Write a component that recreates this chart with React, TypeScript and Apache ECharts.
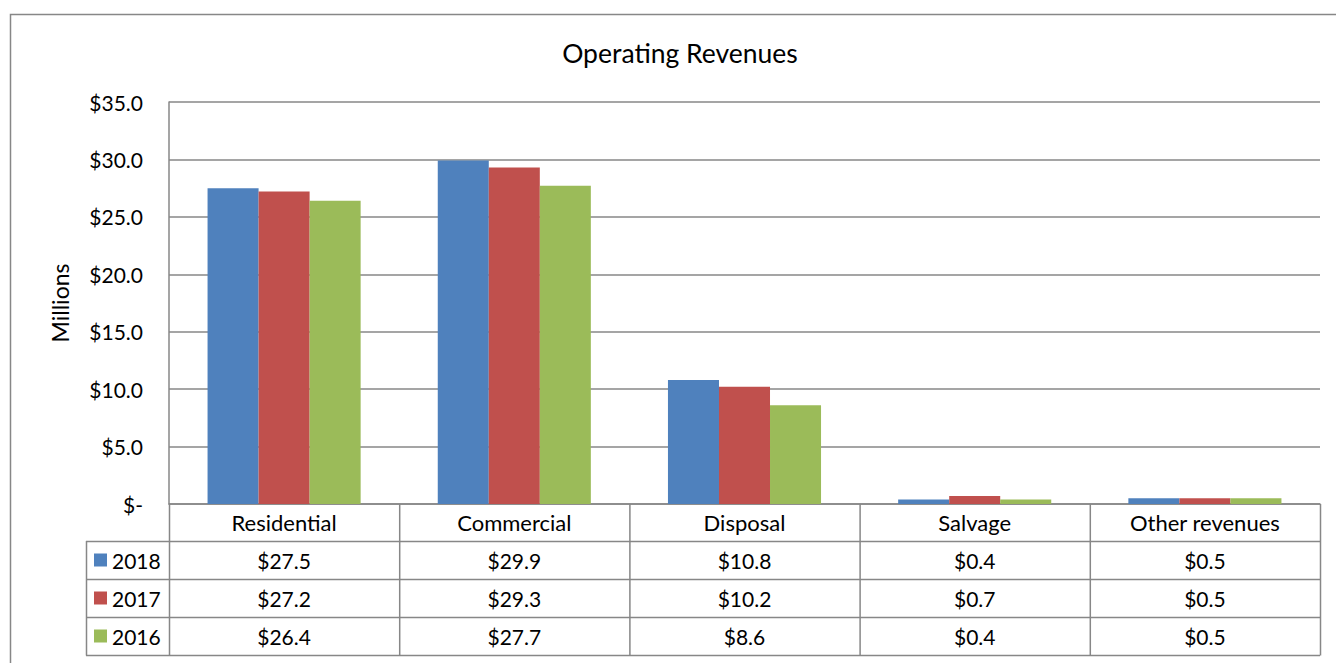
import React, { useEffect, useRef } from "react";
import * as echarts from "echarts";

const categories = ["Residential", "Commercial", "Disposal", "Salvage", "Other revenues"];
const seriesNames = ["2018", "2017", "2016"];
const values2018 = [27.5, 29.9, 10.8, 0.4, 0.5];
const values2017 = [27.2, 29.3, 10.2, 0.7, 0.5];
const values2016 = [26.4, 27.7, 8.6, 0.4, 0.5];
const seriesValues = [values2018, values2017, values2016];
const colors = ["#4F81BD", "#C0504D", "#9BBB59"];
const titleText = "Operating Revenues";

const FONT = "Lato, 'Open Sans', sans-serif";
const LINE = "#878787";

export default function App() {
  const ref = useRef<HTMLDivElement>(null);
  useEffect(() => {
    if (!ref.current) return;
    const chart = echarts.init(ref.current, null, { renderer: "svg" });
    const L = 169, R = 1320, T = 102, B = 504;
    const legendL = 86;
    const rowTops = [504, 541, 579, 617, 655];
    const colW = (R - L) / categories.length;

    const graphics: any[] = [];
    graphics.push({
      type: "rect", shape: { x: 10.5, y: 14.5, width: 1400, height: 700 },
      style: { fill: "none", stroke: LINE, lineWidth: 1.5 }, silent: true, z: 0,
    });
    graphics.push({
      type: "text", x: 680, y: 53,
      style: { text: titleText, fontFamily: FONT, fontSize: 26.5, fill: "#000", align: "center", verticalAlign: "middle" },
      silent: true,
    });
    for (let i = 1; i < rowTops.length; i++) {
      graphics.push({
        type: "line", shape: { x1: legendL, y1: rowTops[i] + 0.5, x2: R, y2: rowTops[i] + 0.5 },
        style: { stroke: LINE, lineWidth: 1.5 }, silent: true,
      });
    }
    for (let c = 0; c <= categories.length; c++) {
      const x = L + c * colW;
      graphics.push({
        type: "line", shape: { x1: x + 0.5, y1: B, x2: x + 0.5, y2: rowTops[4] + 0.5 },
        style: { stroke: LINE, lineWidth: 1.5 }, silent: true,
      });
    }
    graphics.push({
      type: "line", shape: { x1: legendL + 0.5, y1: rowTops[1], x2: legendL + 0.5, y2: rowTops[4] + 0.5 },
      style: { stroke: LINE, lineWidth: 1.5 }, silent: true,
    });
    seriesNames.forEach((name, s) => {
      const cy = (rowTops[s + 1] + rowTops[s + 2]) / 2;
      graphics.push({
        type: "rect", shape: { x: 94, y: cy - 6.5, width: 13, height: 13 },
        style: { fill: colors[s] }, silent: true,
      });
      graphics.push({
        type: "text", x: 112, y: cy,
        style: { text: name, fontFamily: FONT, fontSize: 21, fill: "#000", align: "left", verticalAlign: "middle" },
        silent: true,
      });
      seriesValues[s].forEach((v, c) => {
        graphics.push({
          type: "text", x: L + (c + 0.5) * colW, y: cy,
          style: { text: "$" + v.toFixed(1), fontFamily: FONT, fontSize: 21, fill: "#000", align: "center", verticalAlign: "middle" },
          silent: true,
        });
      });
    });

    chart.setOption({
      animation: false,
      backgroundColor: "#fff",
      grid: { left: L, top: T, width: R - L, height: B - T, containLabel: false },
      xAxis: {
        type: "category", data: categories,
        axisLine: { show: true, lineStyle: { color: LINE, width: 1.5 } },
        axisTick: { show: false },
        axisLabel: { interval: 0, margin: 7, fontFamily: FONT, fontSize: 22, color: "#000" },
      },
      yAxis: {
        type: "value", min: 0, max: 35, interval: 5,
        name: "Millions", nameLocation: "middle", nameGap: 98, nameRotate: 90,
        nameTextStyle: { fontFamily: FONT, fontSize: 23, color: "#000" },
        axisLine: { show: true, lineStyle: { color: LINE, width: 1.5 } },
        axisTick: { show: false },
        splitLine: { show: true, lineStyle: { color: LINE, width: 1.5 } },
        axisLabel: {
          margin: 26, fontFamily: FONT, fontSize: 21, color: "#000",
          formatter: (v: number) => (v === 0 ? "$-" : "$" + v.toFixed(1)),
        },
      },
      series: seriesNames.map((name, s) => ({
        type: "bar", name, data: seriesValues[s],
        itemStyle: { color: colors[s] },
        barGap: "0%", barCategoryGap: "33.5%",
      })),
      graphic: graphics,
    });
    return () => chart.dispose();
  }, []);
  return <div ref={ref} style={{ position: "fixed", left: 0, top: 0, width: 1336, height: 663 }} />;
}
